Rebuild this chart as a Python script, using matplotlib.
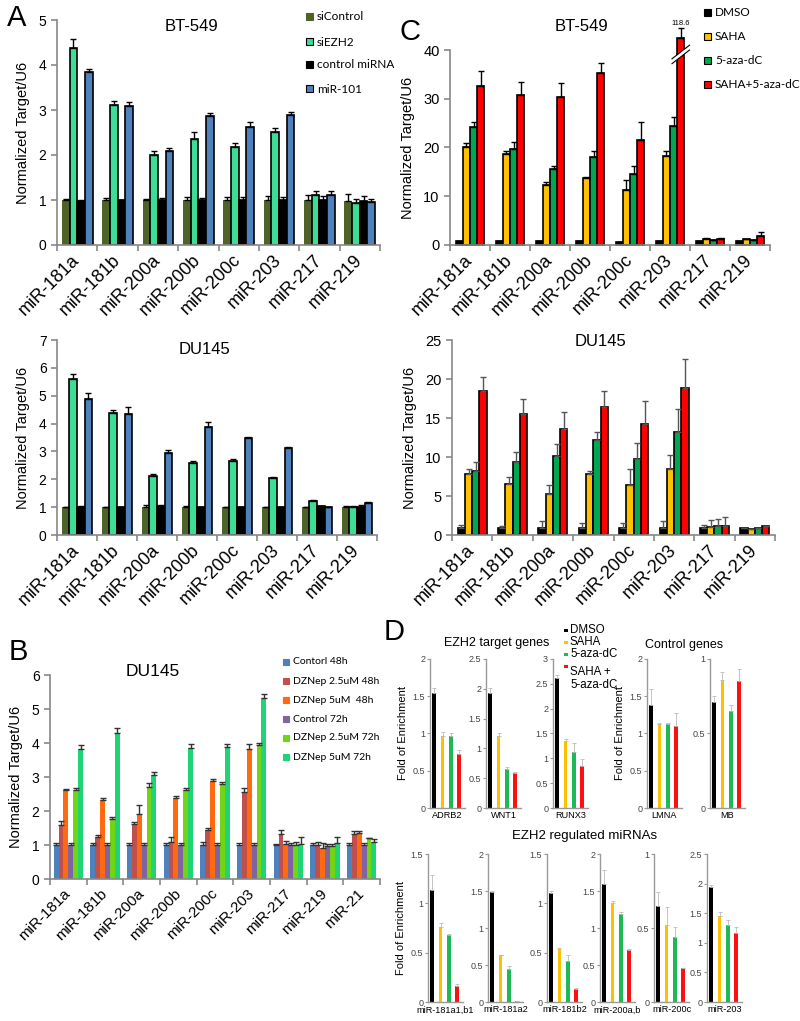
import numpy as np
import matplotlib.pyplot as plt
from matplotlib.patches import Rectangle, Polygon
from matplotlib.ticker import FuncFormatter

plt.rcParams['font.family'] = ['Liberation Sans', 'DejaVu Sans']

W, H = 800, 1021

mirs = ["miR-181a", "miR-181b", "miR-200a", "miR-200b", "miR-200c", "miR-203", "miR-217", "miR-219"]
mirs_b = mirs + ["miR-21"]

# ---- panel A: siRNA / miR-101 ----
a_names = ["siControl", "siEZH2", "control miRNA", "miR-101"]
a_colors = ["#4f6228", "#3ddc97", "#000000", "#4f81bd"]
a_edges = ["none", "black", "black", "black"]

a_bt = [[1.0, 1.0, 1.0, 1.0, 1.0, 1.0, 1.0, 0.98],
        [4.37, 3.1, 2.0, 2.35, 2.17, 2.52, 1.1, 0.93],
        [0.98, 1.0, 1.0, 1.0, 1.0, 1.0, 1.0, 0.98],
        [3.85, 3.08, 2.08, 2.87, 2.62, 2.88, 1.12, 0.95]]
a_bt_err = [[0.02, 0.04, 0.02, 0.07, 0.07, 0.08, 0.1, 0.15],
            [0.2, 0.1, 0.08, 0.17, 0.1, 0.09, 0.1, 0.09],
            [0.03, 0.0, 0.05, 0.04, 0.07, 0.06, 0.08, 0.1],
            [0.07, 0.09, 0.07, 0.06, 0.12, 0.08, 0.07, 0.07]]

a_du = [[1.0, 1.0, 1.0, 1.0, 1.0, 1.0, 1.0, 1.0],
        [5.59, 4.37, 2.12, 2.57, 2.67, 2.06, 1.22, 1.0],
        [1.02, 1.02, 1.04, 1.02, 1.02, 1.02, 1.03, 1.02],
        [4.9, 4.34, 2.95, 3.89, 3.49, 3.13, 1.0, 1.15]]
a_du_err = [[0.02, 0.02, 0.06, 0.04, 0.02, 0.02, 0.01, 0.05],
            [0.2, 0.13, 0.06, 0.1, 0.05, 0.02, 0.02, 0.04],
            [0.02, 0.0, 0.02, 0.0, 0.0, 0.0, 0.02, 0.06],
            [0.18, 0.24, 0.1, 0.16, 0.04, 0.02, 0.02, 0.04]]

# ---- panel C: SAHA / 5-aza-dC ----
c_names = ["DMSO", "SAHA", "5-aza-dC", "SAHA+5-aza-dC"]
c_colors = ["#000000", "#ffc000", "#00a651", "#ff0000"]

c_bt = [[0.8, 0.8, 0.8, 0.8, 0.7, 0.8, 0.8, 0.9],
        [20.2, 18.6, 12.3, 13.7, 11.3, 18.3, 1.3, 1.2],
        [24.2, 19.7, 15.5, 18.0, 14.5, 24.4, 1.0, 1.0],
        [32.7, 30.8, 30.3, 35.3, 21.6, 42.5, 1.3, 1.9]]
c_bt_err = [[0, 0, 0, 0, 0, 0, 0, 0],
            [0.7, 0.7, 0.7, 0.3, 2.1, 0.9, 0.1, 0.1],
            [1.1, 1.5, 0.8, 1.2, 1.7, 1.8, 0.1, 0.1],
            [2.9, 2.6, 2.9, 2.0, 3.7, 2.0, 0.1, 0.7]]
c_bt_broken = 5          # miR-203 combo bar is cut
c_bt_broken_label = "118.6"

c_du = [[0.9, 0.9, 0.9, 0.9, 0.9, 0.9, 0.9, 0.9],
        [7.8, 6.5, 5.3, 7.8, 6.4, 8.4, 1.0, 0.8],
        [8.2, 9.4, 10.1, 12.2, 9.7, 13.2, 1.1, 0.95],
        [18.4, 15.5, 13.6, 16.4, 14.2, 18.8, 1.2, 1.2]]
c_du_err = [[0.4, 0.3, 0.9, 0.6, 0.6, 0.9, 0.4, 0],
            [0.7, 0.9, 1.1, 0.4, 2.0, 1.9, 0.9, 0],
            [1.1, 1.3, 1.6, 1.0, 2.1, 3.0, 1.0, 0],
            [1.8, 1.9, 2.2, 2.0, 3.0, 3.8, 1.1, 0]]

# ---- panel B: DZNep ----
b_names = ["Contorl 48h", "DZNep 2.5uM 48h", "DZNep 5uM  48h", "Control 72h",
           "DZNep 2.5uM 72h", "DZNep 5uM 72h"]
b_colors = ["#4f81bd", "#c0504d", "#ff6a10", "#8064a2", "#72d414", "#1fd475"]
b_vals = [[1, 1, 1, 1, 1, 1, 1, 1, 1],
          [1.6, 1.23, 1.63, 1.1, 1.43, 2.56, 1.31, 1.0, 1.33],
          [2.61, 2.31, 1.92, 2.39, 2.88, 3.81, 1.02, 0.92, 1.36],
          [1, 1, 1, 1, 1, 1, 1, 0.98, 1],
          [2.63, 1.77, 2.71, 2.61, 2.8, 3.94, 1.0, 0.98, 1.21],
          [3.81, 4.28, 3.05, 3.84, 3.89, 5.31, 1.03, 1.07, 1.1]]
b_errs = [[0.05, 0.05, 0.05, 0.05, 0.08, 0.07, 0.02, 0.05, 0.06],
          [0.1, 0.07, 0.04, 0.13, 0.07, 0.12, 0.14, 0.1, 0.07],
          [0.03, 0.08, 0.26, 0.06, 0.07, 0.16, 0.1, 0.13, 0.04],
          [0.05, 0.05, 0.05, 0.06, 0.05, 0.05, 0.05, 0.05, 0.05],
          [0.05, 0.05, 0.1, 0.08, 0.05, 0.06, 0.1, 0.04, 0.01],
          [0.14, 0.15, 0.1, 0.12, 0.07, 0.12, 0.2, 0.16, 0.08]]

# ---- panel D: ChIP fold enrichment ----
d_names = ["DMSO", "SAHA", "5-aza-dC", "SAHA +\n5-aza-dC"]
d_colors = ["#000000", "#ffc000", "#1db954", "#ff1010"]
d_top_genes = ["ADRB2", "WNT1", "RUNX3", "LMNA", "MB"]
d_top_ymax = [2, 2.5, 3, 2, 1]
d_top_vals = [[1.55, 0.97, 0.97, 0.72],
              [1.93, 1.2, 0.66, 0.58],
              [2.62, 1.35, 1.13, 0.85],
              [1.38, 1.13, 1.13, 1.1],
              [0.71, 0.86, 0.65, 0.85]]
d_top_errs = [[0.06, 0.05, 0.03, 0.06],
              [0.08, 0.05, 0.02, 0.03],
              [0.05, 0.03, 0.17, 0.14],
              [0.22, 0.01, 0.01, 0.17],
              [0.04, 0.05, 0.04, 0.08]]
d_bot_genes = ["miR-181a1,b1", "miR-181a2", "miR-181b2", "miR-200a,b", "miR-200c", "miR-203"]
d_bot_ymax = [1.5, 2, 1.5, 2, 1, 2.5]
d_bot_vals = [[1.14, 0.76, 0.68, 0.16],
              [1.48, 0.63, 0.45, 0.02],
              [1.1, 0.54, 0.42, 0.13],
              [1.6, 1.34, 1.19, 0.7],
              [0.65, 0.52, 0.44, 0.23],
              [1.95, 1.45, 1.3, 1.17]]
d_bot_errs = [[0.15, 0.04, 0.01, 0.02],
              [0.02, 0.0, 0.04, 0.0],
              [0.03, 0.01, 0.06, 0.01],
              [0.18, 0.02, 0.02, 0.01],
              [0.09, 0.12, 0.07, 0.0],
              [0.02, 0.07, 0.08, 0.09]]


def box(l, t, r, b):
    return [l / W, 1 - b / H, (r - l) / W, (b - t) / H]


def fx(x):
    return x / W


def fy(y):
    return 1 - y / H


fig = plt.figure(figsize=(8, 10.21), dpi=100)


def grouped(ax, vals, errs, colors, width, edges, ecolor, lw=1.2):
    n = len(vals)
    x = np.arange(len(vals[0]))
    for i in range(n):
        pos = x + (i - (n - 1) / 2) * width
        ax.bar(pos, vals[i], width, color=colors[i], edgecolor=edges[i],
               linewidth=lw, zorder=2)
        ax.errorbar(pos, vals[i], yerr=[np.zeros(len(errs[i])), errs[i]], fmt='none',
                    ecolor=ecolor, elinewidth=1, capsize=2.2, capthick=1, zorder=3)


def style(ax, labels, ymax, ystep, xfs=13, yfs=10, ylab=True):
    n = len(labels)
    ax.set_xlim(-0.5, n - 0.5)
    ax.set_ylim(0, ymax)
    ax.set_yticks(np.arange(0, ymax + 0.001, ystep))
    for s in ['top', 'right']:
        ax.spines[s].set_visible(False)
    for s in ['left', 'bottom']:
        ax.spines[s].set_color('#888888')
        ax.spines[s].set_linewidth(1.2)
    ax.set_xticks(np.arange(n))
    ax.set_xticklabels(labels, rotation=45, ha='right', va='center',
                       rotation_mode='anchor', fontsize=xfs)
    ax.tick_params(axis='x', which='major', length=0, pad=9)
    ax.set_xticks(np.arange(n + 1) - 0.5, minor=True)
    ax.tick_params(axis='x', which='minor', length=4, color='#888888', width=1.2)
    ax.tick_params(axis='y', length=4, color='#888888', width=1.2, labelsize=yfs)
    if ylab:
        ax.set_ylabel("Normalized Target/U6", fontsize=10.5, labelpad=6)


def legend_boxes(names, colors, edges, x, ys, fs, sq=7, family='Lato'):
    for nm, c, e, y in zip(names, colors, edges, ys):
        fig.add_artist(Rectangle((fx(x), fy(y + sq / 2)), sq / W, sq / H,
                                 transform=fig.transFigure, facecolor=c,
                                 edgecolor=('black' if e != 'none' else c), lw=0.8))
        fig.text(fx(x + sq + 4), fy(y), nm, fontsize=fs, va='center', ha='left',
                 family=[family, 'DejaVu Sans'])


# ---- A top ----
ax = fig.add_axes(box(57, 20, 380, 245))
grouped(ax, a_bt, a_bt_err, a_colors, 0.19, a_edges, 'black')
style(ax, mirs, 5, 1)
fig.text(fx(191), fy(26), "BT-549", fontsize=12, ha='center', va='center')
legend_boxes(a_names, a_colors, a_edges, 306, [17, 42, 65, 89], 8.5)

# ---- A bottom ----
ax = fig.add_axes(box(57, 340, 377, 535))
grouped(ax, a_du, a_du_err, a_colors, 0.19, a_edges, 'black')
style(ax, mirs, 7, 1)
fig.text(fx(204), fy(349), "DU145", fontsize=12, ha='center', va='center')

# ---- C top ----
ax = fig.add_axes(box(450, 50, 770, 245))
grouped(ax, c_bt, c_bt_err, c_colors, 0.18, ['black'] * 4, 'black')
style(ax, mirs, 40, 10, yfs=10.5)
for p in ax.patches:
    p.set_clip_on(False)
for ln in ax.lines + ax.collections:
    ln.set_clip_on(False)
bx = c_bt_broken + 1.5 * 0.18
by = c_bt[3][c_bt_broken]
ax.add_patch(Polygon([[bx - 0.2, by - 5.2], [bx + 0.2, by - 2.6], [bx + 0.2, by - 1.6],
                      [bx - 0.2, by - 4.2]], closed=True, facecolor='white',
                     edgecolor='none', zorder=4, clip_on=False))
for off in (0, 1.0):
    ax.plot([bx - 0.22, bx + 0.22], [by - 5.3 + off, by - 2.5 + off], color='black',
            lw=0.8, zorder=5, clip_on=False)
ax.text(bx, by + c_bt_err[3][c_bt_broken] + 0.3, c_bt_broken_label, fontsize=5.5,
        ha='center', va='bottom')
fig.text(fx(582), fy(26), "BT-549", fontsize=12, ha='center', va='center')
legend_boxes(c_names, c_colors, ['black'] * 4, 704, [13, 37, 61, 85], 8.5)

# ---- C bottom ----
ax = fig.add_axes(box(452, 340, 775, 535))
grouped(ax, c_du, c_du_err, c_colors, 0.18, ['black'] * 4, '#555555')
style(ax, mirs, 25, 5, yfs=10.5)
fig.text(fx(601), fy(341), "DU145", fontsize=12, ha='center', va='center')

# ---- B ----
ax = fig.add_axes(box(50, 675, 380, 879))
grouped(ax, b_vals, b_errs, b_colors, 0.133, ['none'] * 6, '#333333', lw=0)
style(ax, mirs_b, 6, 1, xfs=11, yfs=10)
fig.text(fx(153), fy(671), "DU145", fontsize=12.5, ha='center', va='center')
legend_boxes(b_names, b_colors, ['none'] * 6, 283, [662, 681, 700, 719, 738, 757], 7.5, sq=6)

# ---- panel letters ----
for lt, x, y in [("A", 17, 18), ("C", 410, 32), ("B", 18, 652), ("D", 394, 632)]:
    fig.text(fx(x), fy(y), lt, fontsize=21, ha='center', va='center')


# ---- D ----
def dpanel(left, top, bottom, vals, errs, ymax, name, ylab=False):
    ax = fig.add_axes(box(left, top, left + 35, bottom))
    x = np.arange(4)
    ax.bar(x, vals, 0.45, color=d_colors, zorder=2)
    ax.errorbar(x, vals, yerr=[np.zeros(4), errs], fmt='none', ecolor='#bbbbbb',
                elinewidth=0.6, capsize=1.5, capthick=0.6, zorder=3)
    ax.set_xlim(-0.5, 3.7)
    ax.set_ylim(0, ymax)
    ax.set_yticks(np.arange(0, ymax + 0.001, 0.5))
    ax.yaxis.set_major_formatter(FuncFormatter(lambda v, p: "%g" % v))
    for s in ['top', 'right']:
        ax.spines[s].set_visible(False)
    for s in ['left', 'bottom']:
        ax.spines[s].set_color('#999999')
        ax.spines[s].set_linewidth(1.0)
    ax.set_xticks([])
    ax.tick_params(axis='y', length=2.5, color='#999999', width=0.8, labelsize=6.5,
                   labelcolor='#444444', pad=1)
    ax.set_xlabel(name, fontsize=6.6, labelpad=2.5)
    if ylab:
        ax.set_ylabel("Fold of Enrichment", fontsize=8, labelpad=3)
    return ax


top_lefts = [430, 486, 553, 647, 710]
for i, g in enumerate(d_top_genes):
    dpanel(top_lefts[i], 659, 808, d_top_vals[i], d_top_errs[i], d_top_ymax[i], g,
           ylab=(i in (0, 3)))
bot_lefts = [428, 488, 547, 600, 654, 707]
for i, g in enumerate(d_bot_genes):
    dpanel(bot_lefts[i], 854, 1002, d_bot_vals[i], d_bot_errs[i], d_bot_ymax[i], g,
           ylab=(i == 0))

fig.text(fx(497), fy(643), "EZH2 target genes", fontsize=9, ha='center', va='center')
fig.text(fx(684), fy(645), "Control genes", fontsize=9, ha='center', va='center')
fig.text(fx(585), fy(836), "EZH2 regulated miRNAs", fontsize=9.5, ha='center', va='center')

# D legend
d_leg_y = [630, 642, 654, 666]
for nm, c, y in zip(d_names, d_colors, d_leg_y):
    fig.add_artist(Rectangle((fx(564), fy(y + 2)), 3.5 / W, 3.5 / H,
                             transform=fig.transFigure, facecolor=c, edgecolor='none'))
    fig.text(fx(570), fy(y), nm, fontsize=8.3, ha='left', va='top' if '\n' in nm else 'center',
             linespacing=1.1)

fig.savefig("out.png", dpi=100)
